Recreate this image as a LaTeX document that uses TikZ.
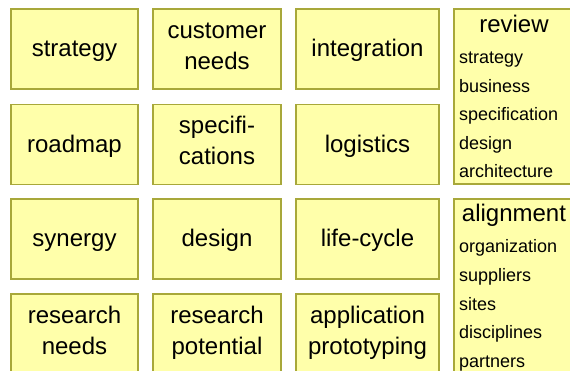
\documentclass[tikz,border=0pt]{standalone}
\usepackage{fontspec}
\setmainfont{Liberation Sans}
\definecolor{cardfill}{HTML}{FFFFAA}
\definecolor{cardline}{HTML}{A8A83A}

\begin{document}
\begin{tikzpicture}[x=1pt,y=-1pt,
    card/.style={draw=cardline,fill=cardfill,line width=1.2pt,minimum height=80pt,
      align=center,inner sep=0pt,text height=16pt,text depth=0pt,
      font=\fontsize{24}{31}\selectfont},
    pair/.style={text height=47pt,text depth=6pt},
    head/.style={font=\fontsize{24}{29}\selectfont,anchor=base,inner sep=0pt},
    item/.style={font=\fontsize{18}{22}\selectfont,anchor=base west,inner sep=0pt}]
    \useasboundingbox (0,0) rectangle (570,371);
    \clip (0,0) rectangle (570,371);
    % first column
    \node[card,minimum width=127pt] (strategy) at (74.5,49)    {strategy};
    \node[card,minimum width=127pt] (roadmap)  at (74.5,144.5) {roadmap};
    \node[card,minimum width=127pt] (synergy)  at (74.5,239)   {synergy};
    \node[card,pair,minimum width=127pt] (resneeds) at (74.5,334) {research\\needs};
    % second column
    \node[card,pair,minimum width=128pt] (custneeds) at (217,49)    {customer\\needs};
    \node[card,pair,minimum width=128pt] (specs)     at (217,144.5) {specifi-\\cations};
    \node[card,minimum width=128pt] (design)         at (217,239)   {design};
    \node[card,pair,minimum width=128pt] (respot)    at (217,334)   {research\\potential};
    % third column
    \node[card,minimum width=143pt] (integration) at (367.5,49)    {integration};
    \node[card,minimum width=143pt] (logistics)   at (367.5,144.5) {logistics};
    \node[card,minimum width=143pt] (lifecycle)   at (367.5,239)   {life-cycle};
    \node[card,pair,minimum width=143pt] (appproto) at (367.5,334) {application\\prototyping};
    % lists
    \node[card,minimum width=120pt,minimum height=175pt] (review)    at (514,96.5) {};
    \node[card,minimum width=120pt,minimum height=180pt] (alignment) at (514,289)  {};
    \node[head] (reviewhead) at (514,33)  {review};
    \node[head] (alignhead)  at (514,222) {alignment};
    \foreach \txt [count=\i from 0] in {strategy,business,specification,design,architecture}
      \node[item] (rv\i) at (459,64+28.5*\i) {\txt};
    \foreach \txt [count=\i from 0] in {organization,suppliers,sites,disciplines,partners}
      \node[item] (al\i) at (459,253+28.5*\i) {\txt};
  \end{tikzpicture}
\end{document}
